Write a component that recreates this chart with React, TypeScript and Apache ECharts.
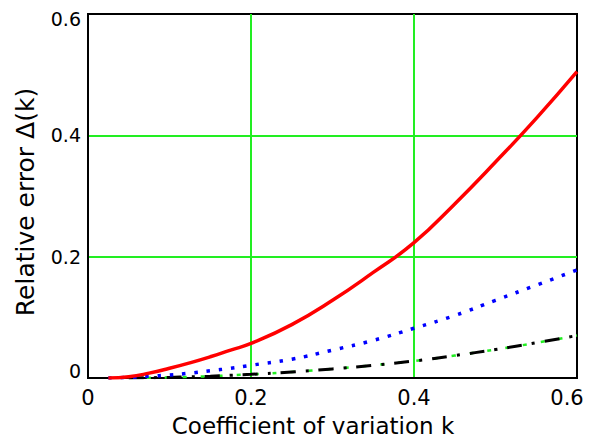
import React, { useEffect, useRef } from "react";
import * as echarts from "echarts";

const kValues = [0.025, 0.05, 0.075, 0.1, 0.125, 0.15, 0.175, 0.2, 0.25, 0.3, 0.35, 0.4, 0.45, 0.5, 0.55, 0.6];
const redValues = [0, 0.002, 0.008, 0.016, 0.025, 0.035, 0.046, 0.057, 0.088, 0.128, 0.174, 0.223, 0.287, 0.356, 0.428, 0.505];
const blueValues = [0, 0.001, 0.003, 0.005, 0.008, 0.012, 0.016, 0.021, 0.031, 0.046, 0.062, 0.082, 0.103, 0.128, 0.153, 0.178];
const blackValues = [null, 0, 0.0005, 0.001, 0.002, 0.003, 0.0045, 0.006, 0.01, 0.015, 0.021, 0.028, 0.037, 0.047, 0.058, 0.07];
const xTitle = "Coefficient of variation k";
const yTitle = "Relative error Δ(k)";

const pairs = (ys: (number | null)[]) => kValues.map((k, i) => [k, ys[i]]);

export default function App() {
  const ref = useRef<HTMLDivElement>(null);
  useEffect(() => {
    if (!ref.current) return;
    const chart = echarts.init(ref.current, null, { renderer: "svg" });
    const font = "DejaVu Sans";
    chart.setOption({
      animation: false,
      backgroundColor: "#ffffff",
      grid: {
        left: 88, right: 12, top: 14, bottom: 60,
        show: true, borderColor: "#000", borderWidth: 2, backgroundColor: "transparent",
        containLabel: false, outerBoundsMode: "none",
      },
      xAxis: {
        type: "value", min: 0, max: 0.6, interval: 0.2,
        axisLine: { show: true, onZero: false, lineStyle: { color: "#000", width: 2 } },
        axisTick: { show: false },
        splitLine: { show: true, showMinLine: false, showMaxLine: false, lineStyle: { color: "#22ee22", width: 2 } },
        axisLabel: {
          margin: 9, color: "#000", fontFamily: font, fontSize: 21,
          formatter: (v: number) => {
            const s = v === 0 ? "0" : v.toFixed(1);
            return Math.abs(v - 0.6) < 1e-9 ? "{mx|" + s + "}" : s;
          },
          rich: { mx: { padding: [0, 20, 0, 0], color: "#000", fontFamily: font, fontSize: 21 } },
        },
      },
      yAxis: {
        type: "value", min: 0, max: 0.6, interval: 0.2,
        axisLine: { show: true, onZero: false, lineStyle: { color: "#000", width: 2 } },
        axisTick: { show: false },
        splitLine: { show: true, showMinLine: false, showMaxLine: false, lineStyle: { color: "#22ee22", width: 2 } },
        axisLabel: {
          margin: 7, color: "#000", fontFamily: font, fontSize: 19,
          formatter: (v: number) => {
            if (v === 0) return "{lo|0}";
            const s = v.toFixed(1);
            return Math.abs(v - 0.6) < 1e-9 ? "{hi|" + s + "}" : s;
          },
          rich: {
            lo: { padding: [0, 0, 14, 0], color: "#000", fontFamily: font, fontSize: 19 },
            hi: { padding: [9, 0, 0, 0], color: "#000", fontFamily: font, fontSize: 19 },
          },
        },
      },
      graphic: [
        {
          type: "text", x: 313, y: 426, z: 10,
          style: { text: xTitle, fill: "#000", font: "23px 'DejaVu Sans'", lineHeight: 20, textAlign: "center", textVerticalAlign: "middle", align: "center", verticalAlign: "middle" },
        },
        {
          type: "text", x: 25, y: 202, rotation: Math.PI / 2, z: 10,
          style: { text: yTitle, fill: "#000", font: "25px 'DejaVu Sans'", textAlign: "center", textVerticalAlign: "middle", align: "center", verticalAlign: "middle" },
        },
      ],
      series: [
        {
          type: "line", data: pairs(redValues), smooth: true, showSymbol: false, z: 5,
          lineStyle: { color: "#ff0000", width: 3.5 },
        },
        {
          type: "line", data: pairs(blueValues), smooth: true, showSymbol: false, z: 4,
          lineStyle: { color: "#0000ff", width: 3.5, type: [3.5, 8.8] },
        },
        {
          type: "line", data: pairs(blackValues), smooth: true, showSymbol: false, z: 2,
          lineStyle: { color: "#22ee22", width: 2.5, type: [4, 14] },
        },
        {
          type: "line", data: pairs(blackValues), smooth: true, showSymbol: false, z: 3,
          lineStyle: { color: "#000000", width: 3, type: [15, 10, 3, 10] },
        },
      ],
    });
    return () => chart.dispose();
  }, []);
  return <div ref={ref} style={{ width: 589, height: 438, position: "absolute", left: 0, top: 0 }} />;
}
